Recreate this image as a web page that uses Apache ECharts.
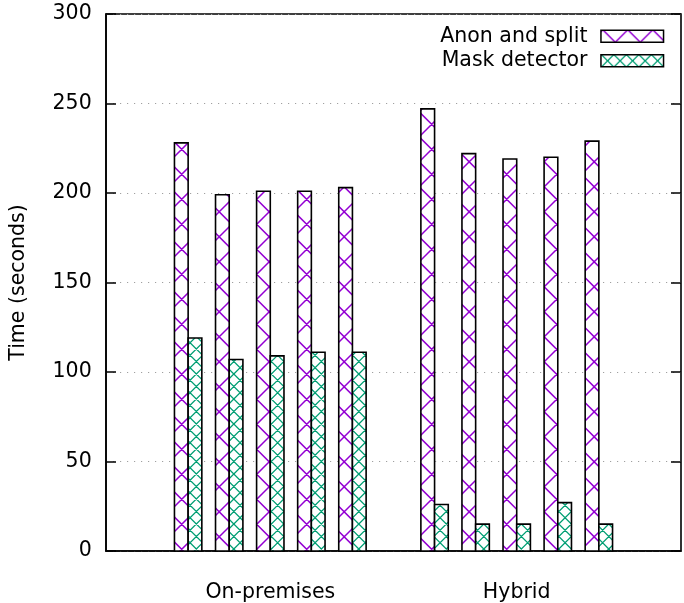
<!DOCTYPE html>
<html>
<head>
<meta charset="utf-8">
<script src="https://cdn.jsdelivr.net/npm/echarts@6/dist/echarts.min.js"></script>
<style>
  html, body { margin: 0; padding: 0; background: #fff; }
  #chart { width: 684px; height: 603px; }
</style>
</head>
<body>
<div id="chart"></div>
<script>
// Run groups and the two timed stages (seconds), five runs per group
const groups = ['On-premises', 'Hybrid'];
const seriesNames = ['Anon and split', 'Mask detector'];
const anonSplit = [
  [228, 199, 201, 201, 203],
  [247, 222, 219, 220, 229]
];
const maskDetector = [
  [119, 107, 109, 111, 111],
  [26, 15, 15, 27, 15]
];
const yTickValues = [0, 50, 100, 150, 200, 250, 300];

// Histogram slot layout: each group takes 5 slots followed by one empty slot
const SLOTS_PER_GROUP = 6;
const BAR = 1 / 3;               // width of one bar in slot units
const FONT = 'DejaVu Sans';
const FS = 20.5;

// Hatch tile: two families of diagonal lines (x - y = const, x + y = const)
function hatchTile(color, step, offDiff, offSum, width) {
  const size = 25;
  const c = document.createElement('canvas');
  c.width = size; c.height = size;
  const ctx = c.getContext('2d');
  ctx.fillStyle = '#fff';
  ctx.fillRect(0, 0, size, size);
  ctx.strokeStyle = color;
  ctx.lineWidth = width;
  ctx.beginPath();
  for (let k = -5; k <= 5; k++) {
    const a = offDiff + k * step;
    ctx.moveTo(a - 10, -10); ctx.lineTo(a + size + 10, size + 10);
    const b = offSum + k * step;
    ctx.moveTo(b + 10, -10); ctx.lineTo(b - size - 10, size + 10);
  }
  ctx.stroke();
  return { image: c, repeat: 'repeat' };
}

const PURPLE = '#9400d3';
const GREEN = '#009e73';
const purpleFill = hatchTile(PURPLE, 25, 7.4, 6, 1.5);
const greenFill = hatchTile(GREEN, 12.5, 9.8, 7.8, 1.3);
const purpleKey = hatchTile(PURPLE, 25, 2.3, 1.3, 1.5);
const greenKey = hatchTile(GREEN, 12.5, 0.6, 0.1, 1.3);

function barSeries(name, values, side, fill) {
  const data = [];
  values.forEach((grp, g) => grp.forEach((v, i) => data.push([g * SLOTS_PER_GROUP + i, v])));
  return {
    type: 'custom',
    name: name,
    data: data,
    encode: { x: 0, y: 1 },
    itemStyle: { color: fill, borderColor: '#000', borderWidth: 1.5 },
    renderItem: function (params, api) {
      const x = api.value(0);
      const v = api.value(1);
      const topLeft = api.coord([x + side * BAR, v]);
      const botRight = api.coord([x + (side + 1) * BAR, 0]);
      return {
        type: 'rect',
        shape: {
          x: topLeft[0], y: topLeft[1],
          width: botRight[0] - topLeft[0],
          height: botRight[1] - topLeft[1]
        },
        style: { fill: fill, stroke: '#000', lineWidth: 1.6 }
      };
    }
  };
}

const chart = echarts.init(document.getElementById('chart'), null, { renderer: 'canvas' });

const groupLabelAt = {};
groups.forEach((g, i) => { groupLabelAt[i * SLOTS_PER_GROUP + 2] = g; });

const yMin = yTickValues[0];
const yMax = yTickValues[yTickValues.length - 1];
const yStep = yTickValues[1] - yTickValues[0];

chart.setOption({
  animation: false,
  backgroundColor: '#fff',
  textStyle: { fontFamily: FONT },
  grid: {
    left: 105, top: 14, right: -7, bottom: 52,
    show: true, borderColor: '#000', borderWidth: 1.6, backgroundColor: 'transparent'
  },
  legend: {
    orient: 'vertical', align: 'right',
    right: 19.7, top: 25.8, padding: 0,
    itemWidth: 62.6, itemHeight: 12, itemGap: 3.5,
    selectedMode: false,
    textStyle: { fontFamily: FONT, fontSize: FS, color: '#000', lineHeight: 20, padding: [0, 8.4, 0, 0] },
    data: [
      { name: seriesNames[0], icon: 'rect', itemStyle: { color: purpleKey, borderColor: '#000', borderWidth: 1.5 } },
      { name: seriesNames[1], icon: 'rect', itemStyle: { color: greenKey, borderColor: '#000', borderWidth: 1.5 } }
    ]
  },
  xAxis: {
    type: 'value', min: -2, max: 12, interval: 1,
    axisLine: { show: true, onZero: false, lineStyle: { color: '#000', width: 1.6 } },
    axisTick: { show: false },
    splitLine: { show: false },
    axisLabel: {
      color: '#000', fontFamily: FONT, fontSize: FS, lineHeight: 20, margin: 31.5,
      formatter: v => groupLabelAt[v] || ''
    }
  },
  yAxis: [{
    type: 'value', min: yMin, max: yMax, interval: yStep,
    name: 'Time (seconds)', nameLocation: 'middle', nameGap: 77,
    nameTextStyle: { color: '#000', fontFamily: FONT, fontSize: FS },
    axisLine: { show: true, onZero: false, lineStyle: { color: '#000', width: 1.6 } },
    axisTick: { show: true, inside: true, length: 10, lineStyle: { color: '#000', width: 1.5 } },
    axisLabel: { color: '#000', fontFamily: FONT, fontSize: FS, margin: 14.3, lineHeight: 20, padding: [6, 0, 0, 0] },
    splitLine: { show: true, lineStyle: { color: '#a0a0a0', width: 1, type: [1.2, 5.8] } }
  }, {
    type: 'value', min: yMin, max: yMax, interval: yStep, position: 'right',
    axisLine: { show: false, onZero: false },
    axisTick: { show: true, inside: true, length: 10, lineStyle: { color: '#000', width: 1.5 } },
    axisLabel: { show: false },
    splitLine: { show: false }
  }],
  series: [
    barSeries(seriesNames[0], anonSplit, -1, purpleFill),
    barSeries(seriesNames[1], maskDetector, 0, greenFill)
  ]
});
</script>
</body>
</html>
